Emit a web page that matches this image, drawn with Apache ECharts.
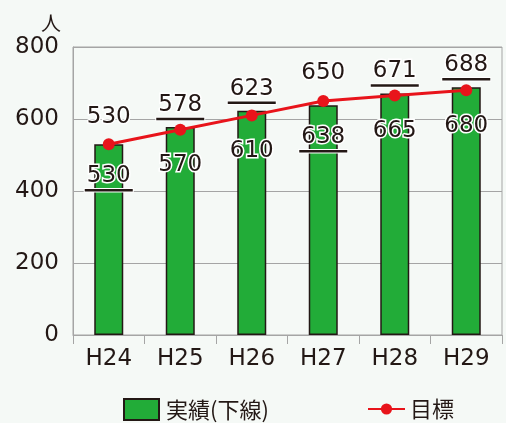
<!DOCTYPE html>
<html>
<head>
<meta charset="utf-8">
<script src="https://cdn.jsdelivr.net/npm/echarts@6/dist/echarts.min.js"></script>
<style>
html, body { margin: 0; padding: 0; background: #f5f9f6; }
#main { width: 506px; height: 423px; }
</style>
</head>
<body>
<div id="main"></div>
<script>
var categories = ['H24', 'H25', 'H26', 'H27', 'H28', 'H29'];
var actual = [530, 578, 623, 638, 671, 688];
var target = [530, 570, 610, 650, 665, 680];
var yTicks = [0, 200, 400, 600, 800];

var font = 'DejaVu Sans, Noto Sans CJK JP';
var ink = '#231815';

// 実績ラベル: 上 or 棒の中
var barInside = [true, false, false, true, false, false];
// 目標ラベル: 上 or 下
var lineAbove = [true, false, false, true, false, false];

var barData = actual.map(function (v, i) {
    return {
        value: v,
        label: barInside[i]
            ? { position: 'insideTop', distance: 20 }
            : { position: 'top', distance: 6 }
    };
});
var lineData = target.map(function (v, i) {
    return {
        value: v,
        label: lineAbove[i]
            ? { position: 'top', distance: 10 }
            : { position: 'bottom', distance: 18 }
    };
});

var myChart = echarts.init(document.getElementById('main'));

var option = {
    backgroundColor: '#f5f9f6',
    animation: false,
    textStyle: { fontFamily: font },
    grid: {
        left: 73, right: 4, top: 47, bottom: 88,
        show: true, borderColor: '#a5a5a5', borderWidth: 1
    },
    legend: [
        {
            data: [{ name: '実績(下線)', icon: 'rect' }],
            left: 123, top: 398, padding: 0,
            itemWidth: 35, itemHeight: 21, itemGap: 8,
            textStyle: { fontSize: 22, color: ink, fontFamily: 'Noto Sans CJK JP', padding: [0, 0, 0, 2] }
        },
        {
            data: ['目標'],
            left: 367, top: 398, padding: 0,
            itemWidth: 37, itemHeight: 14,
            textStyle: { fontSize: 22, color: ink, fontFamily: 'Noto Sans CJK JP' }
        }
    ],
    xAxis: {
        type: 'category',
        data: categories,
        axisLine: { lineStyle: { color: '#a5a5a5' } },
        axisTick: { show: true, length: 9, lineStyle: { color: '#a5a5a5' } },
        axisLabel: { fontSize: 23, color: ink, margin: 13 }
    },
    yAxis: {
        type: 'value',
        min: yTicks[0], max: yTicks[yTicks.length - 1], interval: 200,
        name: '人',
        nameLocation: 'end',
        nameGap: 14,
        nameTextStyle: { fontSize: 20, color: ink, align: 'right', padding: [0, 12, 0, 0], fontFamily: 'Noto Sans CJK JP' },
        axisLine: { show: true, lineStyle: { color: '#a5a5a5' } },
        axisTick: { show: false },
        splitLine: { lineStyle: { color: '#a5a5a5' } },
        axisLabel: { fontSize: 23, color: ink, margin: 14 }
    },
    series: [
        {
            name: '実績(下線)',
            type: 'bar',
            data: barData,
            barWidth: 29,
            itemStyle: { color: '#22ac38', borderColor: ink, borderWidth: 1.5 },
            label: {
                show: true,
                formatter: '{n|{c}}\n{u| }',
                rich: {
                    n: {
                        fontSize: 23, color: ink, fontFamily: font,
                        textBorderColor: '#fff', textBorderWidth: 3,
                        lineHeight: 24
                    },
                    u: {
                        width: 48, height: 2.5, lineHeight: 4, fontSize: 1,
                        backgroundColor: ink,
                        borderColor: '#fff', borderWidth: 1
                    }
                }
            },
            z: 2
        },
        {
            name: '目標',
            type: 'line',
            data: lineData,
            symbol: 'circle',
            symbolSize: 12,
            lineStyle: { color: '#e8141b', width: 3 },
            itemStyle: { color: '#e8141b' },
            label: {
                show: true,
                fontSize: 23, color: ink,
                textBorderColor: '#fff', textBorderWidth: 3
            },
            z: 3
        }
    ]
};

myChart.setOption(option);
</script>
</body>
</html>
